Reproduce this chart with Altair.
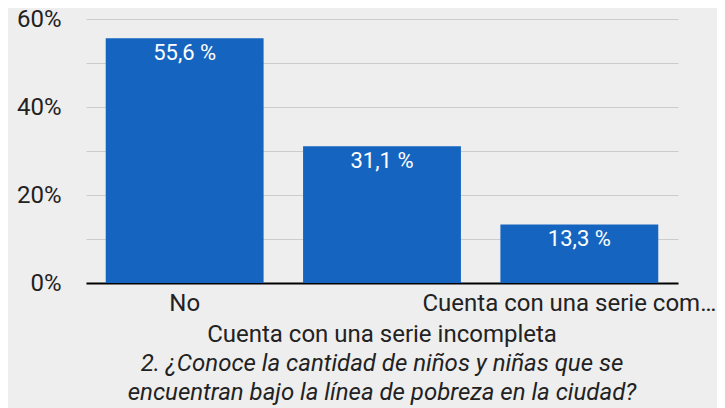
import altair as alt
import pandas as pd

categories = ["No", "Cuenta con una serie incompleta", "Cuenta con una serie completa"]
axis_labels = ["No", "Cuenta con una serie incompleta", "Cuenta con una serie com…"]
shares = [0.556, 0.311, 0.133]
y_ticks = [0.0, 0.1, 0.2, 0.3, 0.4, 0.5, 0.6]
title_lines = [
    "2. ¿Conoce la cantidad de niños y niñas que se",
    "encuentran bajo la línea de pobreza en la ciudad?",
]

df = pd.DataFrame({"cat": categories, "label": axis_labels, "share": shares})

FONT = "Roboto"
W, H = 592, 264
TXT = "#222222"
FS = 24

x = alt.X(
    "cat:N",
    sort=categories,
    scale=alt.Scale(paddingInner=0.2, paddingOuter=0.1),
    axis=alt.Axis(title=None, labels=False, ticks=False, domain=True,
                  domainColor="#000000", domainWidth=2, grid=False),
)

base = alt.Chart(df)

bars = base.mark_bar(color="#1565c0").encode(
    x=x,
    y=alt.Y(
        "share:Q",
        scale=alt.Scale(domain=[0, 0.6], nice=False),
        axis=alt.Axis(
            values=y_ticks,
            labelExpr="round(datum.value*10) % 2 == 0 ? format(datum.value, '.0%') : ''",
            title=None, ticks=False, domain=False,
            gridColor="#cccccc", gridWidth=1,
            labelPadding=25, labelFontSize=FS, labelColor=TXT, labelFont=FONT,
        ),
    ),
)

values_text = base.transform_calculate(
    txt="replace(format(datum.share*100, '.1f'), '.', ',') + ' %'"
).mark_text(baseline="top", dy=5, color="white", fontSize=22, font=FONT).encode(
    x=x, y="share:Q", text="txt:N"
)

row1a = base.transform_filter(
    alt.FieldEqualPredicate(field="cat", equal=categories[0])
).mark_text(baseline="alphabetic", fontSize=FS, color=TXT, font=FONT).encode(
    x=x, y=alt.value(292), text="label:N"
)

row1b = base.transform_filter(
    alt.FieldEqualPredicate(field="cat", equal=categories[2])
).mark_text(baseline="alphabetic", fontSize=FS, color=TXT, font=FONT, dx=-10).encode(
    x=x, y=alt.value(292), text="label:N"
)

row2 = base.transform_filter(
    alt.FieldEqualPredicate(field="cat", equal=categories[1])
).mark_text(baseline="alphabetic", fontSize=FS, color=TXT, font=FONT).encode(
    x=x, y=alt.value(323), text="label:N"
)

title = alt.Chart(pd.DataFrame({"t": ["\n".join(title_lines)]})).mark_text(
    baseline="alphabetic", fontSize=FS, fontStyle="italic", color=TXT, font=FONT,
    lineBreak="\n", lineHeight=29,
).encode(x=alt.value(W / 2), y=alt.value(352), text="t:N")

chart = alt.layer(bars, values_text, row1a, row1b, row2, title).properties(
    width=W, height=H,
    autosize="none",
    padding={"left": 78, "top": 11, "right": 39, "bottom": 125},
    background="#eeeeee",
).configure_view(stroke=None)

chart.save("out.html", embed_options={"renderer": "svg", "actions": False})
